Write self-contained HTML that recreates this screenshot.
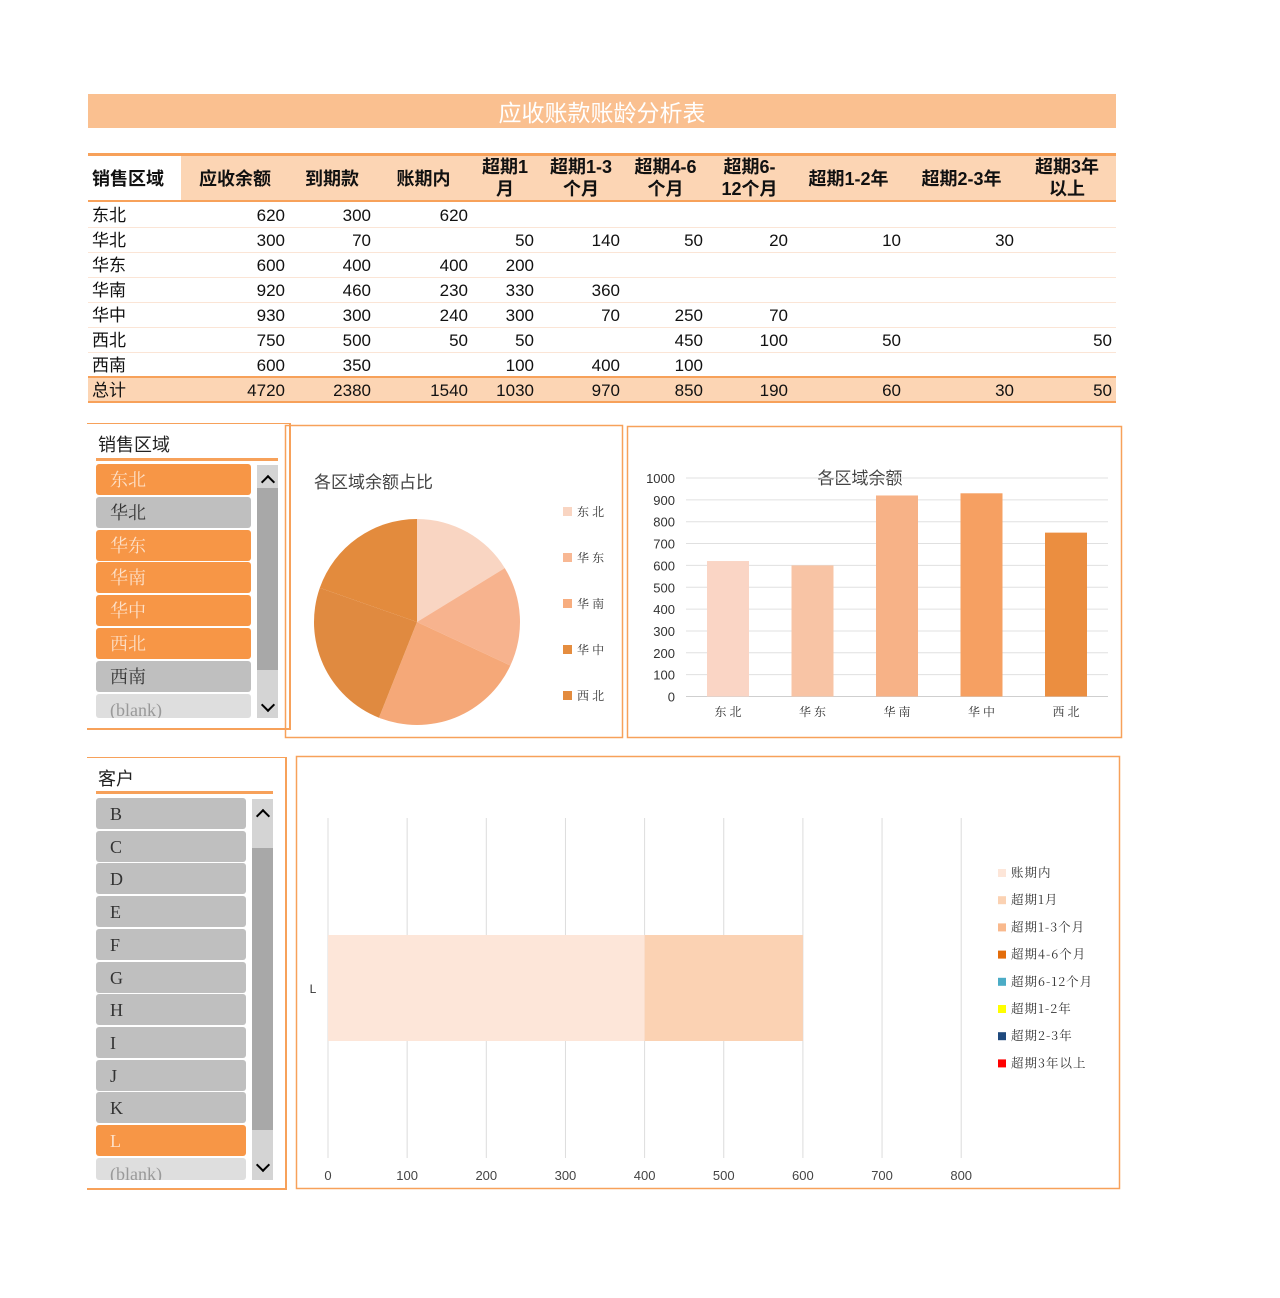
<!DOCTYPE html>
<html><head><meta charset="utf-8">
<style>
body{margin:0;width:1280px;height:1298px;background:#fff;font-family:"Liberation Sans","Noto Sans CJK SC",sans-serif;position:relative;overflow:hidden}
.abs{position:absolute}
.cell{position:absolute;font-size:17px;color:#111;line-height:25px}
.hd{position:absolute;font-size:18px;color:#111;text-align:center;line-height:22px;font-weight:bold}
.item{position:absolute;left:96px;width:155px;height:31px;border-radius:3px;font-family:"Liberation Serif","Noto Serif CJK SC",serif;font-size:18px;line-height:33px;padding-left:14px;box-sizing:border-box}
.on{background:#f79646;color:#fde0c8}
.off{background:#bfbfbf;color:#333}
.bl{background:#dedede;color:#999}
.arr{position:absolute;width:8px;height:8px;border-left:2px solid #000;border-top:2px solid #000}
</style></head><body>
<div class="abs" style="left:88px;top:94px;width:1028px;height:34px;background:#fac090;color:#fff;font-size:23px;text-align:center;line-height:38px">应收账款账龄分析表</div>
<div id="table"></div>

<div class="abs" style="left:87px;top:423px;width:202px;height:304px;border-right:2px solid #f7a15a;border-bottom:2px solid #f7a15a;border-top:1px solid #f7a15a"></div>
<div class="abs" style="left:98px;top:431px;font-size:18px;color:#222">销售区域</div>
<div class="abs" style="left:96px;top:458px;width:182px;height:3px;background:#f7a15a"></div>
<div id="s1"></div>
<div class="abs" style="left:257px;top:465px;width:21px;height:253px;background:#d4d4d4"></div>
<div class="abs" style="left:257px;top:488px;width:21px;height:182px;background:#a8a8a8"></div>
<div class="arr" style="left:263px;top:477px;transform:rotate(45deg)"></div>
<div class="arr" style="left:263px;top:700px;transform:rotate(225deg)"></div>

<div class="abs" style="left:87px;top:757px;width:198px;height:430px;border-right:2px solid #f7a15a;border-bottom:2px solid #f7a15a;border-top:1px solid #f7a15a"></div>
<div class="abs" style="left:98px;top:765px;font-size:18px;color:#222">客户</div>
<div class="abs" style="left:96px;top:791px;width:177px;height:3px;background:#f7a15a"></div>
<div id="s2"></div>
<div class="abs" style="left:252px;top:799px;width:21px;height:381px;background:#d4d4d4"></div>
<div class="abs" style="left:252px;top:848px;width:21px;height:282px;background:#a8a8a8"></div>
<div class="arr" style="left:258px;top:811px;transform:rotate(45deg)"></div>
<div class="arr" style="left:258px;top:1160px;transform:rotate(225deg)"></div>

<svg class="abs" style="left:0;top:0" width="1280" height="1298" id="svg">
<rect x="285.5" y="425.5" width="337" height="312" fill="none" stroke="#f7a15a" stroke-width="1.5"/>
<text x="314" y="488" font-size="17" fill="#444">各区域余额占比</text>
<rect x="627.5" y="426.5" width="494" height="311" fill="none" stroke="#f7a15a" stroke-width="1.5"/>
<text x="860" y="484" font-size="17" fill="#444" text-anchor="middle">各区域余额</text>
<rect x="296.5" y="756.5" width="823" height="432" fill="none" stroke="#f7a15a" stroke-width="1.5"/>
<g id="pie"></g><g id="bar"></g><g id="hbar"></g>
</svg>
<script>
const NS='http://www.w3.org/2000/svg';
function mk(t,a,p){const e=document.createElementNS(NS,t);for(const k in a)e.setAttribute(k,a[k]);p.appendChild(e);return e;}
const headers=['销售区域','应收余额','到期款','账期内','超期1<br>月','超期1-3<br>个月','超期4-6<br>个月','超期6-<br>12个月','超期1-2年','超期2-3年','超期3年<br>以上'];
const colR=[181,289,375,472,538,624,707,792,905,1018,1116];
const regions=['东北','华北','华东','华南','华中','西北','西南','总计'];
const rowsVals=[
[620,300,620,'','','','','','',''],
[300,70,'',50,140,50,20,10,30,''],
[600,400,400,200,'','','','','',''],
[920,460,230,330,360,'','','','',''],
[930,300,240,300,70,250,70,'','',''],
[750,500,50,50,'',450,100,50,'',50],
[600,350,'',100,400,100,'','','',''],
[4720,2380,1540,1030,970,850,190,60,30,50]];
const T=document.getElementById('table');
let h='<div class="abs" style="left:88px;top:153px;width:1028px;height:49px;background:#fcd5b4;border-top:3px solid #f7a15a;border-bottom:2px solid #f7a15a;box-sizing:border-box"></div><div class="abs" style="left:88px;top:156px;width:93px;height:44px;background:#fff"></div>';
headers.forEach((t,i)=>{const l=i?colR[i-1]:88;const w=colR[i]-l;const two=t.includes('<br>');h+=`<div class="hd" style="left:${l}px;top:${two?156:168}px;width:${w}px;${i==0?'text-align:left;padding-left:4px;':''}">${t}</div>`;});
regions.forEach((r,ri)=>{const y=203+ri*25;
 if(ri==7)h+=`<div class="abs" style="left:88px;top:${y-2}px;width:1028px;height:27px;background:#fcd5b4;border-top:2px solid #f7a15a;border-bottom:2px solid #f7a15a;box-sizing:border-box"></div>`;
 else h+=`<div class="abs" style="left:88px;top:${y+24}px;width:1028px;height:1px;background:#fbe5d6"></div>`;
 h+=`<div class="cell" style="left:92px;top:${y}px">${r}</div>`;
 rowsVals[ri].forEach((v,ci)=>{h+=`<div class="cell" style="left:${colR[ci+1]-100}px;top:${y}px;width:96px;text-align:right">${v}</div>`;});
});
T.innerHTML=h;
function slicer(id,items,states,top,step,w,bottom){const c=document.getElementById(id);items.forEach((t,i)=>{const d=document.createElement('div');const y=top+i*step;d.className='item '+states[i];d.style.top=y+'px';d.style.width=w+'px';if(y+31>bottom)d.style.height=(bottom-y)+'px';d.style.overflow='hidden';d.textContent=t;


c.appendChild(d);});}
slicer('s1',['东北','华北','华东','华南','华中','西北','西南','(blank)'],['on','off','on','on','on','on','off','bl'],464,32.8,155,718);
slicer('s2',['B','C','D','E','F','G','H','I','J','K','L','(blank)'],['off','off','off','off','off','off','off','off','off','off','on','bl'],798,32.7,150,1180);
const pieCats=['东北','华东','华南','华中','西北'];
const pieVals=[620,600,920,930,750];
const pieColors=['#f9d5c2','#f8b894','#f7ad7f','#e58d3f','#e38b3d'];
const sliceColors=['#f9d5c2','#f7b38e','#f5a878','#e08a40','#e38b3d'];
const P=document.getElementById('pie');const cx=417,cy=622,R=103;
const tot=pieVals.reduce((a,b)=>a+b,0);let a0=0;
pieVals.forEach((v,i)=>{const a1=a0+v/tot*2*Math.PI;const x0=cx+R*Math.sin(a0),y0=cy-R*Math.cos(a0),x1=cx+R*Math.sin(a1),y1=cy-R*Math.cos(a1);
const p=mk('path',{d:`M${cx},${cy}L${x0},${y0}A${R},${R} 0 ${a1-a0>Math.PI?1:0} 1 ${x1},${y1}Z`,fill:sliceColors[i]},P);


a0=a1;
const r=mk('rect',{x:563,y:507+i*46,width:9,height:9,fill:pieColors[i]},P);


const t=mk('text',{x:577,y:516+i*46,'font-size':12,fill:'#333','font-family':'Noto Serif CJK SC,serif'},P);t.textContent=pieCats[i].split('').join(' ');


});
const barCats=['东北','华东','华南','华中','西北'];
const barVals=[620,600,920,930,750];
const barTicks=[0,100,200,300,400,500,600,700,800,900,1000];
const barColors=['#fad5c5','#f8c4a5','#f7b287','#f6a062','#eb8e40'];
const B=document.getElementById('bar');
const by=v=>696.5-v*0.2185, bx=i=>728+i*84.5;
barTicks.forEach(t=>{const l=mk('line',{x1:686,x2:1108,y1:by(t),y2:by(t),stroke:t?'#e0e0e0':'#cfcfcf'},B);


const tx=mk('text',{x:675,y:by(t)+5,'font-size':13,fill:'#333','text-anchor':'end'},B);tx.textContent=t;

});
barVals.forEach((v,i)=>{const r=mk('rect',{x:bx(i)-21,y:by(v),width:42,height:by(0)-by(v),fill:barColors[i]},B);


const t=mk('text',{x:bx(i),y:716,'font-size':12,fill:'#333','text-anchor':'middle','font-family':'Noto Serif CJK SC,serif'},B);t.textContent=barCats[i].split('').join(' ');

});
const hTicks=[0,100,200,300,400,500,600,700,800];
const hCats=['L'];
const hSeries=['账期内','超期1月','超期1-3个月','超期4-6个月','超期6-12个月','超期1-2年','超期2-3年','超期3年以上'];
const hVals=[[400],[200],[0],[0],[0],[0],[0],[0]];
const hColors=['#fde6d9','#fbd2b3','#f9b98d','#e36c0a','#4bacc6','#ffff00','#1f497d','#ff0000'];
const H=document.getElementById('hbar');const hx=v=>328+v*0.7915;
hTicks.forEach(t=>{const l=mk('line',{x1:hx(t),x2:hx(t),y1:818,y2:1158,stroke:'#dcdcdc'},H);


const tx=mk('text',{x:hx(t),y:1180,'font-size':13,fill:'#444','text-anchor':'middle'},H);tx.textContent=t;

});
hCats.forEach((c,ci)=>{let acc=0;hSeries.forEach((s,si)=>{const v=hVals[si][ci];if(v>0){const r=mk('rect',{x:hx(acc),y:935,width:hx(acc+v)-hx(acc),height:106,fill:hColors[si]},H);

}acc+=v;});
const t=mk('text',{x:313,y:993,'font-size':12,fill:'#333','text-anchor':'middle'},H);t.textContent=c;

});
hSeries.forEach((s,i)=>{const r=mk('rect',{x:998,y:869+i*27.2,width:8,height:8,fill:hColors[i]},H);


const t=mk('text',{x:1011,y:877+i*27.2,'font-size':12.5,fill:'#333','font-family':'Noto Serif CJK SC,serif','letter-spacing':'1'},H);t.textContent=s;

});
</script>
</body></html>
